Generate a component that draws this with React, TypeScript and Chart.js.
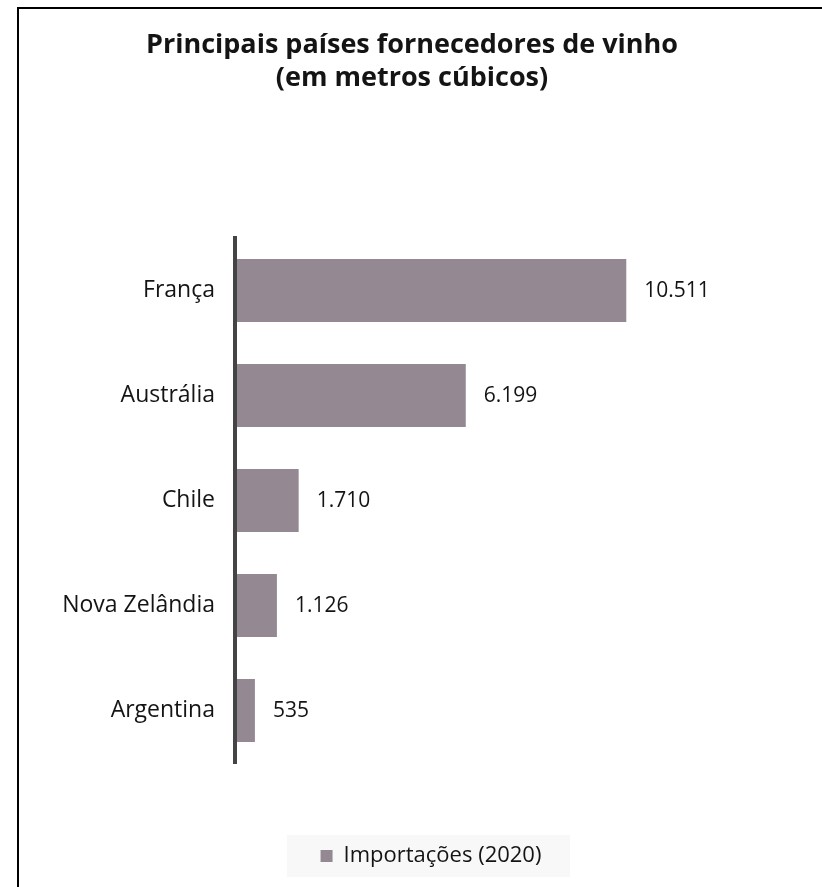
import React, { useEffect, useRef } from "react";
import { Chart, registerables } from "chart.js";

Chart.register(...registerables);

const categories = ["França", "Austrália", "Chile", "Nova Zelândia", "Argentina"];
const imports2020 = [10511, 6199, 1710, 1126, 535];
const seriesLabel = "Importações (2020)";
const titleLines = ["Principais países fornecedores de vinho", "(em metros cúbicos)"];

const BAR_COLOR = "#948993";
const TEXT_COLOR = "#141414";
const FONT = "'Open Sans', 'Noto Sans', sans-serif";

const fmt = (v: number) => String(v).replace(/\B(?=(\d{3})+(?!\d))/g, ".");

const valueLabels = {
  id: "valueLabels",
  afterDatasetsDraw(chart: any) {
    const ctx = chart.ctx;
    const meta = chart.getDatasetMeta(0);
    ctx.save();
    ctx.font = `21px ${FONT}`;
    ctx.fillStyle = TEXT_COLOR;
    ctx.textAlign = "left";
    ctx.textBaseline = "middle";
    meta.data.forEach((bar: any, i: number) => {
      const v = chart.data.datasets[0].data[i];
      ctx.fillText(fmt(v), bar.x + 18, bar.y + 1);
    });
    ctx.restore();
  },
};

const legendBg = {
  id: "legendBg",
  beforeDraw(chart: any) {
    const lg = chart.legend;
    if (!lg) return;
    const ctx = chart.ctx;
    const cx = (lg.left + lg.right) / 2 - 2.5;
    const w = 283;
    const h = 42;
    ctx.save();
    ctx.fillStyle = "#f8f8f8";
    ctx.fillRect(cx - w / 2, lg.top, w, h);
    ctx.restore();
  },
};

export default function App() {
  const ref = useRef<HTMLCanvasElement | null>(null);

  useEffect(() => {
    if (!ref.current) return;
    const chart = new Chart(ref.current, {
      type: "bar",
      data: {
        labels: categories,
        datasets: [
          {
            label: seriesLabel,
            data: imports2020,
            backgroundColor: BAR_COLOR,
            borderWidth: 0,
            categoryPercentage: 1,
            barPercentage: 0.6,
            yAxisID: "y",
            xAxisID: "x",
          },
        ],
      },
      plugins: [valueLabels, legendBg],
      options: {
        indexAxis: "y",
        responsive: false,
        animation: false,
        layout: { padding: { left: 0, right: 0, top: 0, bottom: 10 } },
        scales: {
          y: {
            afterFit: (s: any) => {
              s.width = 216;
            },
            grid: { display: false, drawTicks: false },
            border: { display: true, color: "#444444", width: 4, z: 1 },
            ticks: {
              padding: 20,
              color: TEXT_COLOR,
              font: { family: FONT, size: 23 },
            },
          },
          yRight: {
            type: "category",
            position: "right",
            display: true,
            afterFit: (s: any) => {
              s.width = 178;
            },
            grid: { display: false, drawTicks: false },
            border: { display: false },
            ticks: { display: false },
          },
          x: {
            min: 0,
            max: 10530,
            afterFit: (s: any) => {
              s.height = 72;
            },
            grid: { display: false, drawTicks: false },
            border: { display: false },
            ticks: { display: false },
          },
        },
        plugins: {
          tooltip: { enabled: false },
          title: {
            display: true,
            text: titleLines,
            color: TEXT_COLOR,
            font: { family: FONT, size: 27, weight: "bold", lineHeight: 1.22 },
            padding: { top: 19.5, bottom: 143.5 },
          },
          legend: {
            display: true,
            position: "bottom",
            fullSize: false,
            labels: {
              boxWidth: 12,
              boxHeight: 12,
              color: TEXT_COLOR,
              padding: 10,
              font: { family: FONT, size: 22 },
            },
          },
        },
      },
    } as any);
    return () => chart.destroy();
  }, []);

  return (
    <div
      style={{
        position: "fixed",
        left: 0,
        top: 0,
        width: 822,
        height: 887,
        overflow: "hidden",
        background: "#ffffff",
      }}
    >
      <div
        style={{
          position: "absolute",
          left: 17,
          top: 7,
          width: 900,
          height: 1000,
          border: "2px solid #000000",
          boxSizing: "content-box",
        }}
      >
        <canvas
          ref={ref}
          width={786}
          height={878}
          style={{ position: "absolute", left: 0, top: 0, width: 786, height: 878 }}
        />
      </div>
    </div>
  );
}
